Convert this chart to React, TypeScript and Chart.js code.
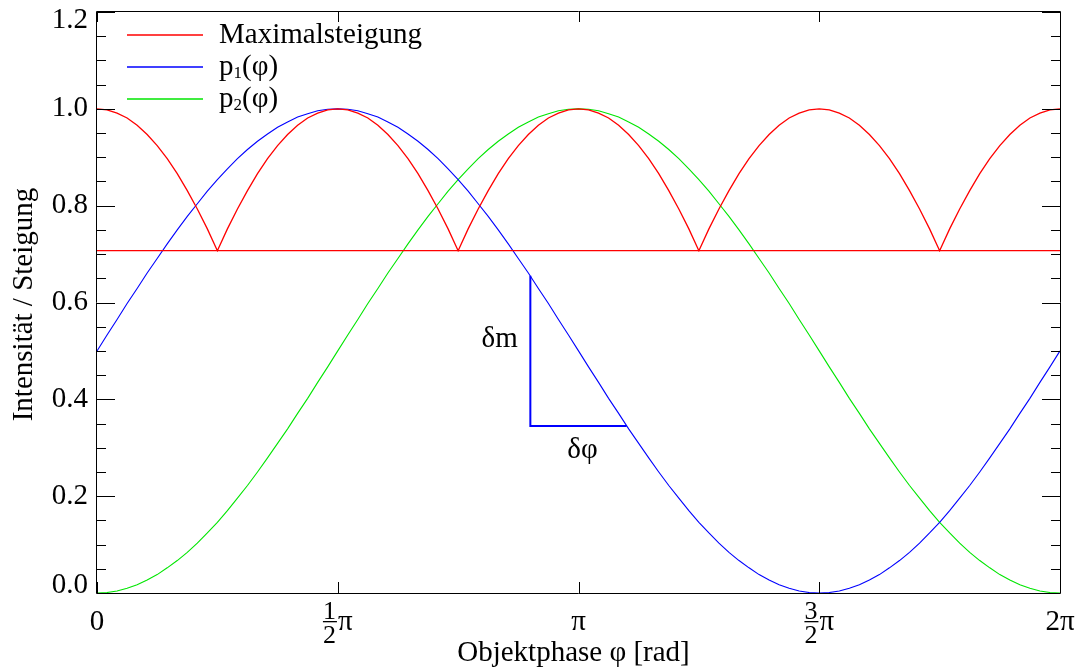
import React, { useEffect, useRef } from "react";
import { Chart, registerables } from "chart.js";

Chart.register(...registerables);

// Phase grid in degrees (0 .. 2π)
const phaseDeg = [
  0, 3.75, 7.5, 11.25, 15, 18.75, 22.5, 26.25, 30, 33.75, 37.5, 41.25, 45, 48.75, 52.5, 56.25, 60, 63.75, 67.5, 71.25, 75, 78.75, 82.5, 86.25, 90,
  93.75, 97.5, 101.25, 105, 108.75, 112.5, 116.25, 120, 123.75, 127.5, 131.25, 135, 138.75, 142.5, 146.25, 150, 153.75, 157.5, 161.25, 165, 168.75, 172.5, 176.25, 180,
  183.75, 187.5, 191.25, 195, 198.75, 202.5, 206.25, 210, 213.75, 217.5, 221.25, 225, 228.75, 232.5, 236.25, 240, 243.75, 247.5, 251.25, 255, 258.75, 262.5, 266.25, 270,
  273.75, 277.5, 281.25, 285, 288.75, 292.5, 296.25, 300, 303.75, 307.5, 311.25, 315, 318.75, 322.5, 326.25, 330, 333.75, 337.5, 341.25, 345, 348.75, 352.5, 356.25, 360,
];

const maximalsteigung = [
  1, 0.998, 0.991, 0.981, 0.966, 0.947, 0.924, 0.897, 0.866, 0.831, 0.793, 0.752, 0.707, 0.752, 0.793, 0.831, 0.866, 0.897, 0.924, 0.947, 0.966, 0.981, 0.991, 0.998, 1,
  0.998, 0.991, 0.981, 0.966, 0.947, 0.924, 0.897, 0.866, 0.831, 0.793, 0.752, 0.707, 0.752, 0.793, 0.831, 0.866, 0.897, 0.924, 0.947, 0.966, 0.981, 0.991, 0.998, 1,
  0.998, 0.991, 0.981, 0.966, 0.947, 0.924, 0.897, 0.866, 0.831, 0.793, 0.752, 0.707, 0.752, 0.793, 0.831, 0.866, 0.897, 0.924, 0.947, 0.966, 0.981, 0.991, 0.998, 1,
  0.998, 0.991, 0.981, 0.966, 0.947, 0.924, 0.897, 0.866, 0.831, 0.793, 0.752, 0.707, 0.752, 0.793, 0.831, 0.866, 0.897, 0.924, 0.947, 0.966, 0.981, 0.991, 0.998, 1,
];

const p1Values = [
  0.5, 0.533, 0.565, 0.598, 0.629, 0.661, 0.691, 0.721, 0.75, 0.778, 0.804, 0.83, 0.854, 0.876, 0.897, 0.916, 0.933, 0.948, 0.962, 0.973, 0.983, 0.99, 0.996, 0.999, 1,
  0.999, 0.996, 0.99, 0.983, 0.973, 0.962, 0.948, 0.933, 0.916, 0.897, 0.876, 0.854, 0.83, 0.804, 0.778, 0.75, 0.721, 0.691, 0.661, 0.629, 0.598, 0.565, 0.533, 0.5,
  0.467, 0.435, 0.402, 0.371, 0.339, 0.309, 0.279, 0.25, 0.222, 0.196, 0.17, 0.146, 0.124, 0.103, 0.084, 0.067, 0.052, 0.038, 0.027, 0.017, 0.01, 0.004, 0.001, 0,
  0.001, 0.004, 0.01, 0.017, 0.027, 0.038, 0.052, 0.067, 0.084, 0.103, 0.124, 0.146, 0.17, 0.196, 0.222, 0.25, 0.279, 0.309, 0.339, 0.371, 0.402, 0.435, 0.467, 0.5,
];

const p2Values = [
  0, 0.001, 0.004, 0.01, 0.017, 0.027, 0.038, 0.052, 0.067, 0.084, 0.103, 0.124, 0.146, 0.17, 0.196, 0.222, 0.25, 0.279, 0.309, 0.339, 0.371, 0.402, 0.435, 0.467, 0.5,
  0.533, 0.565, 0.598, 0.629, 0.661, 0.691, 0.721, 0.75, 0.778, 0.804, 0.83, 0.854, 0.876, 0.897, 0.916, 0.933, 0.948, 0.962, 0.973, 0.983, 0.99, 0.996, 0.999, 1,
  0.999, 0.996, 0.99, 0.983, 0.973, 0.962, 0.948, 0.933, 0.916, 0.897, 0.876, 0.854, 0.83, 0.804, 0.778, 0.75, 0.721, 0.691, 0.661, 0.629, 0.598, 0.565, 0.533, 0.5,
  0.467, 0.435, 0.402, 0.371, 0.339, 0.309, 0.279, 0.25, 0.222, 0.196, 0.17, 0.146, 0.124, 0.103, 0.084, 0.067, 0.052, 0.038, 0.027, 0.017, 0.01, 0.004, 0.001, 0,
];

// horizontal level of minimal "Maximalsteigung" (1/√2)
const levelX = [0, 360];
const levelY = [0.707, 0.707];

// slope triangle δm / δφ on p1
const triangleX = [162, 162, 198];
const triangleY = [0.655, 0.345, 0.345];

// annotation labels: text, x (deg), y
const annoText = ["δm", "δφ"];
const annoX = [150.5, 181.5];
const annoY = [0.524, 0.295];

// axis ticks
const xMajorTicks = [0, 90, 180, 270, 360];
const xTickLabels = ["0", "1/2π", "π", "3/2π", "2π"];
const yMajorTicks = [0, 0.2, 0.4, 0.6, 0.8, 1.0, 1.2];
const yTickLabels = ["0.0", "0.2", "0.4", "0.6", "0.8", "1.0", "1.2"];
const yMinorTicks = [0.05, 0.1, 0.15, 0.25, 0.3, 0.35, 0.45, 0.5, 0.55, 0.65, 0.7, 0.75, 0.85, 0.9, 0.95, 1.05, 1.1, 1.15];

const legendLabels = ["Maximalsteigung", "p|1|(φ)", "p|2|(φ)"];
const legendColors = ["#ff0000", "#0000ff", "#00e600"];

const xTitle = "Objektphase φ [rad]";
const yTitle = "Intensität / Steigung";

const FONT = "'Liberation Serif', 'Times New Roman', serif";
const FS = 29;
const RED = "#ff0000";
const BLUE = "#0000ff";
const GREEN = "#00e600";

function toPoints(xs: number[], ys: number[]) {
  return xs.map((x, i) => ({ x, y: ys[i] }));
}

const decorPlugin = {
  id: "decor",
  afterDraw(chart: any) {
    const ctx: CanvasRenderingContext2D = chart.ctx;
    const { left, right, top, bottom } = chart.chartArea;
    const xs = chart.scales.x;
    const ys = chart.scales.y;
    ctx.save();

    // frame
    ctx.strokeStyle = "#000";
    ctx.lineWidth = 1;
    ctx.beginPath();
    ctx.rect(left - 0.5, top - 0.5, right - left + 1, bottom - top + 1);
    ctx.stroke();

    // ticks (inside, all four sides)
    ctx.beginPath();
    yMajorTicks.forEach((v) => {
      const py = Math.round(ys.getPixelForValue(v)) + 0.5;
      ctx.moveTo(left, py);
      ctx.lineTo(left + 18, py);
      ctx.moveTo(right, py);
      ctx.lineTo(right - 18, py);
    });
    yMinorTicks.forEach((v) => {
      const py = Math.round(ys.getPixelForValue(v)) + 0.5;
      ctx.moveTo(left, py);
      ctx.lineTo(left + 9, py);
      ctx.moveTo(right, py);
      ctx.lineTo(right - 9, py);
    });
    xMajorTicks.forEach((v) => {
      const px = Math.round(xs.getPixelForValue(v)) + 0.5;
      ctx.moveTo(px, bottom);
      ctx.lineTo(px, bottom - 11);
      ctx.moveTo(px, top);
      ctx.lineTo(px, top + 10);
    });
    ctx.stroke();

    // y tick labels
    ctx.fillStyle = "#000";
    ctx.font = `${FS}px ${FONT}`;
    ctx.textAlign = "right";
    ctx.textBaseline = "middle";
    yMajorTicks.forEach((v, i) => {
      let py = ys.getPixelForValue(v);
      py = Math.max(top + 8, Math.min(bottom - 8, py));
      ctx.fillText(yTickLabels[i], left - 9, py);
    });

    // x tick labels (with stacked fractions)
    xMajorTicks.forEach((v, i) => {
      const px = xs.getPixelForValue(v);
      const lab = xTickLabels[i];
      const m = lab.match(/^(\d+)\/(\d+)(.*)$/);
      const baseY = 630;
      if (m) {
        const num = m[1];
        const den = m[2];
        const rest = m[3];
        ctx.font = `${FS - 3}px ${FONT}`;
        const fw = Math.max(ctx.measureText(num).width, ctx.measureText(den).width);
        ctx.font = `${FS}px ${FONT}`;
        const rw = ctx.measureText(rest).width;
        const total = fw + 2 + rw;
        const x0 = px - total / 2;
        ctx.font = `${FS - 3}px ${FONT}`;
        ctx.textAlign = "center";
        ctx.textBaseline = "alphabetic";
        ctx.fillText(num, x0 + fw / 2, 619);
        ctx.fillText(den, x0 + fw / 2, 643);
        ctx.fillRect(x0, 621, fw + 1, 1.3);
        ctx.font = `${FS}px ${FONT}`;
        ctx.textAlign = "left";
        ctx.fillText(rest, x0 + fw + 2, baseY);
      } else {
        ctx.font = `${FS}px ${FONT}`;
        ctx.textAlign = "center";
        ctx.textBaseline = "alphabetic";
        ctx.fillText(lab, px, baseY);
      }
    });

    // axis titles
    ctx.font = `${FS}px ${FONT}`;
    ctx.textAlign = "center";
    ctx.textBaseline = "alphabetic";
    ctx.fillText(xTitle, (left + right) / 2 - 5, 661);
    ctx.save();
    ctx.translate(32, (top + bottom) / 2 + 2);
    ctx.rotate(-Math.PI / 2);
    ctx.fillText(yTitle, 0, 0);
    ctx.restore();

    // annotations
    ctx.font = `${FS}px ${FONT}`;
    ctx.textAlign = "center";
    ctx.textBaseline = "middle";
    annoText.forEach((t, i) => {
      ctx.fillText(t, xs.getPixelForValue(annoX[i]), ys.getPixelForValue(annoY[i]));
    });

    // legend
    legendLabels.forEach((lab, i) => {
      const ly = top + 23 + i * 32;
      ctx.strokeStyle = legendColors[i];
      ctx.lineWidth = 1.5;
      ctx.beginPath();
      ctx.moveTo(left + 30, ly);
      ctx.lineTo(left + 106, ly);
      ctx.stroke();
      ctx.fillStyle = "#000";
      ctx.textAlign = "left";
      ctx.textBaseline = "middle";
      const parts = lab.split("|");
      let x = left + 122;
      ctx.font = `${FS}px ${FONT}`;
      ctx.fillText(parts[0], x, ly);
      x += ctx.measureText(parts[0]).width;
      if (parts.length > 1) {
        ctx.font = `17px ${FONT}`;
        ctx.fillText(parts[1], x, ly + 7);
        x += ctx.measureText(parts[1]).width;
        ctx.font = `${FS}px ${FONT}`;
        ctx.fillText(parts[2], x, ly);
      }
    });

    ctx.restore();
  },
};

export default function App() {
  const ref = useRef<HTMLCanvasElement>(null);

  useEffect(() => {
    document.body.style.margin = "0";
    document.body.style.background = "#fff";
    const canvas = ref.current;
    if (!canvas) return;
    const chart = new Chart(canvas, {
      type: "line",
      data: {
        datasets: [
          {
            label: "level",
            data: toPoints(levelX, levelY),
            borderColor: RED,
            borderWidth: 1.3,
            pointRadius: 0,
          },
          {
            label: "Maximalsteigung",
            data: toPoints(phaseDeg, maximalsteigung),
            borderColor: RED,
            borderWidth: 1.3,
            pointRadius: 0,
          },
          {
            label: "p1(φ)",
            data: toPoints(phaseDeg, p1Values),
            borderColor: BLUE,
            borderWidth: 1.1,
            pointRadius: 0,
          },
          {
            label: "p2(φ)",
            data: toPoints(phaseDeg, p2Values),
            borderColor: GREEN,
            borderWidth: 1.1,
            pointRadius: 0,
          },
          {
            label: "triangle",
            data: toPoints(triangleX, triangleY),
            borderColor: BLUE,
            borderWidth: 2,
            pointRadius: 0,
          },
        ],
      },
      options: {
        animation: false,
        responsive: false,
        maintainAspectRatio: false,
        layout: { padding: { left: 97, right: 20, top: 12, bottom: 77 } },
        plugins: { legend: { display: false }, tooltip: { enabled: false } },
        elements: { line: { tension: 0, fill: false } },
        scales: {
          x: { type: "linear", min: 0, max: 360, display: false },
          y: { type: "linear", min: 0, max: 1.2, display: false },
        },
      },
      plugins: [decorPlugin],
    });
    return () => chart.destroy();
  }, []);

  return (
    <div style={{ width: 1080, height: 670, background: "#fff" }}>
      <canvas ref={ref} width={1080} height={670} style={{ display: "block" }} />
    </div>
  );
}
